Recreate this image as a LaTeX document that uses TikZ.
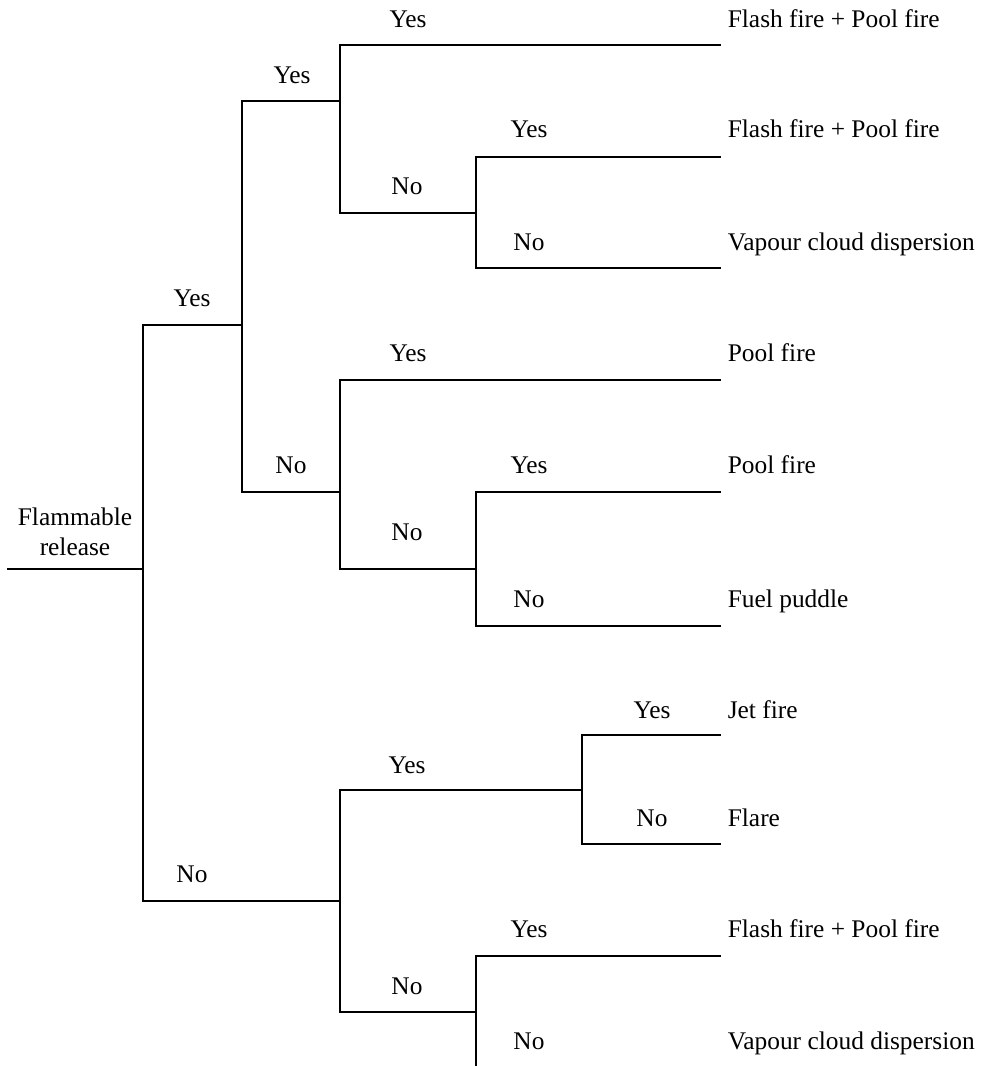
\documentclass[tikz,border=0pt]{standalone}
\usepackage{fontspec}
\setmainfont{Liberation Serif}
\begin{document}
\begin{tikzpicture}[x=1pt,y=-1pt,line width=1.6pt,
  lbl/.style={anchor=base,inner sep=0pt,font=\fontsize{25.4}{30}\selectfont},
  outc/.style={anchor=base west,inner sep=0pt,font=\fontsize{25.4}{30}\selectfont},
  root/.style={align=center,inner sep=0pt,font=\fontsize{25.4}{30}\selectfont},
  branch/.style={draw,line join=miter}]
\useasboundingbox (0,0) rectangle (995,1066);
\clip (0,0) rectangle (995,1066);
% junctions
\coordinate (start) at (7,569);
\coordinate (j0) at (143,569);
\coordinate (j1) at (242,325);
\coordinate (j2) at (340,901);
\coordinate (j11) at (340,101);
\coordinate (j12) at (340,492);
\coordinate (j112) at (476,213);
\coordinate (j122) at (476,569);
\coordinate (j21) at (582,790);
\coordinate (j22) at (476,1012);
% leaf ends
\coordinate (e1) at (721,45);
\coordinate (e2) at (721,157);
\coordinate (e3) at (721,268);
\coordinate (e4) at (721,380);
\coordinate (e5) at (721,492);
\coordinate (e6) at (721,626);
\coordinate (e7) at (721,735);
\coordinate (e8) at (721,844);
\coordinate (e9) at (721,956);
\coordinate (e10) at (721,1078);
% branches
\draw[branch] (start) -- (j0);
\draw[branch] (j0) |- (j1);
\draw[branch] (j0) |- (j2);
\draw[branch] (j1) |- (j11);
\draw[branch] (j1) |- (j12);
\draw[branch] (j11) |- (e1);
\draw[branch] (j11) |- (j112);
\draw[branch] (j112) |- (e2);
\draw[branch] (j112) |- (e3);
\draw[branch] (j12) |- (e4);
\draw[branch] (j12) |- (j122);
\draw[branch] (j122) |- (e5);
\draw[branch] (j122) |- (e6);
\draw[branch] (j2) |- (j21);
\draw[branch] (j2) |- (j22);
\draw[branch] (j21) |- (e7);
\draw[branch] (j21) |- (e8);
\draw[branch] (j22) |- (e9);
\draw[branch] (j22) |- (e10);
% root label
\node[root] (rootlbl) at (75,531.4) {Flammable\\release};
% branch labels
\node[lbl] (l1) at (408,27) {Yes};
\node[lbl] (l2) at (292,83) {Yes};
\node[lbl] (l3) at (192,306) {Yes};
\node[lbl] (l4) at (407,194) {No};
\node[lbl] (l5) at (529,137) {Yes};
\node[lbl] (l6) at (529,250) {No};
\node[lbl] (l7) at (408,361) {Yes};
\node[lbl] (l8) at (291,473) {No};
\node[lbl] (l9) at (529,473) {Yes};
\node[lbl] (l10) at (407,540) {No};
\node[lbl] (l11) at (529,607) {No};
\node[lbl] (l12) at (652,718) {Yes};
\node[lbl] (l13) at (652,826) {No};
\node[lbl] (l14) at (407,773) {Yes};
\node[lbl] (l15) at (192,882) {No};
\node[lbl] (l16) at (529,937) {Yes};
\node[lbl] (l17) at (407,994) {No};
\node[lbl] (l18) at (529,1049) {No};
% outcomes
\node[outc] (o1) at (727,27) {Flash fire + Pool fire};
\node[outc] (o2) at (727,137) {Flash fire + Pool fire};
\node[outc] (o3) at (727,250) {Vapour cloud dispersion};
\node[outc] (o4) at (727,361) {Pool fire};
\node[outc] (o5) at (727,473) {Pool fire};
\node[outc] (o6) at (727,607) {Fuel puddle};
\node[outc] (o7) at (727,718) {Jet fire};
\node[outc] (o8) at (727,826) {Flare};
\node[outc] (o9) at (727,937) {Flash fire + Pool fire};
\node[outc] (o10) at (727,1049) {Vapour cloud dispersion};
\end{tikzpicture}
\end{document}
